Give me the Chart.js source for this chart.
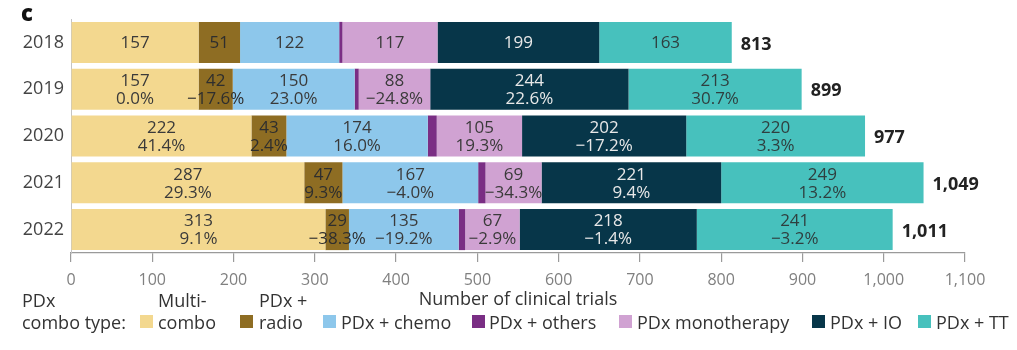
<!DOCTYPE html>
<html>
<head>
<meta charset="utf-8">
<script src="https://cdn.jsdelivr.net/npm/chart.js@4.4.1/dist/chart.umd.min.js"></script>
<style>
  html, body { margin: 0; padding: 0; background: #fff; }
  #wrap { position: relative; width: 1017px; height: 350px; font-family: "Open Sans", sans-serif; color: #333; }
  #c { position: absolute; left: 0; top: 0; }
  .t { position: absolute; white-space: nowrap; font-size: 18px; line-height: 22px; color: #333; }
  .box { position: absolute; top: 315px; width: 13px; height: 13px; }
  #panel { position: absolute; left: 21px; top: -1px; font-size: 22px; font-weight: 800; color: #111; line-height: 26px; }
</style>
</head>
<body>
<div id="wrap">
  <canvas id="c" width="1017" height="350"></canvas>
  <div id="panel">c</div>
  <div class="t" id="axTitle" style="left:518px; top:287px; transform:translateX(-50%);">Number of clinical trials</div>
  <div id="legend"></div>
</div>
<script>
// ---- data ----
const categories = ['2018', '2019', '2020', '2021', '2022'];
const multiCombo  = [157, 157, 222, 287, 313];
const radio       = [51, 42, 43, 47, 29];
const chemo       = [122, 150, 174, 167, 135];
const others      = [4, 5, 11, 9, 8];
const monotherapy = [117, 88, 105, 69, 67];
const io          = [199, 244, 202, 221, 218];
const tt          = [163, 213, 220, 249, 241];

const multiComboPct  = [null, '0.0%', '41.4%', '29.3%', '9.1%'];
const radioPct       = [null, '\u221217.6%', '2.4%', '9.3%', '\u221238.3%'];
const chemoPct       = [null, '23.0%', '16.0%', '\u22124.0%', '\u221219.2%'];
const monotherapyPct = [null, '\u221224.8%', '19.3%', '\u221234.3%', '\u22122.9%'];
const ioPct          = [null, '22.6%', '\u221217.2%', '9.4%', '\u22121.4%'];
const ttPct          = [null, '30.7%', '3.3%', '13.2%', '\u22123.2%'];

const totals = [813, 899, 977, 1049, 1011];
const xTicks = [0, 100, 200, 300, 400, 500, 600, 700, 800, 900, 1000, 1100];

const seriesNames = ['Multi-combo', 'PDx + radio', 'PDx + chemo', 'PDx + others', 'PDx monotherapy', 'PDx + IO', 'PDx + TT'];

// ---- styles ----
const FONT = '"Open Sans", sans-serif';
const colors = ['#F3D88F', '#8E6D23', '#8DC7EB', '#7A2E84', '#D0A2D2', '#073649', '#47C1BD'];
const labelColors = ['#3a3a3a', '#2e2e2e', '#3a3a3a', null, '#3a3a3a', '#e8e8e8', '#2f3f3f'];
const values = [multiCombo, radio, chemo, others, monotherapy, io, tt];
const pcts = [multiComboPct, radioPct, chemoPct, null, monotherapyPct, ioPct, ttPct];

const datasets = values.map((v, i) => ({
  label: seriesNames[i],
  data: v,
  backgroundColor: colors[i],
  borderWidth: 0,
  barPercentage: 1,
  categoryPercentage: 0.876,
  pct: pcts[i],
  labelColor: labelColors[i]
}));

const segLabels = {
  id: 'segLabels',
  afterDatasetsDraw(chart) {
    const ctx = chart.ctx;
    ctx.save();
    ctx.textAlign = 'center';
    ctx.textBaseline = 'middle';
    ctx.font = '17px ' + FONT;
    chart.data.datasets.forEach((ds, i) => {
      if (!ds.pct) return;
      const meta = chart.getDatasetMeta(i);
      meta.data.forEach((bar, j) => {
        const cx = (bar.x + bar.base) / 2;
        ctx.fillStyle = ds.labelColor;
        const p = ds.pct[j];
        if (p) {
          ctx.fillText(String(ds.data[j]), cx, bar.y - 8);
          ctx.fillText(p, cx, bar.y + 10);
        } else {
          ctx.fillText(String(ds.data[j]), cx, bar.y + 1);
        }
      });
    });
    const xs = chart.scales.x;
    const meta0 = chart.getDatasetMeta(0);
    ctx.textAlign = 'left';
    ctx.font = 'bold 18px ' + FONT;
    ctx.fillStyle = '#222';
    totals.forEach((t, j) => {
      ctx.fillText(t.toLocaleString('en-US'), xs.getPixelForValue(t) + 9, meta0.data[j].y + 2);
    });
    ctx.restore();
  }
};

new Chart(document.getElementById('c'), {
  type: 'bar',
  data: { labels: categories, datasets },
  options: {
    indexAxis: 'y',
    responsive: false,
    animation: false,
    layout: { padding: { left: 0, right: 52, top: 19, bottom: 0 } },
    plugins: { legend: { display: false }, tooltip: { enabled: false } },
    scales: {
      x: {
        stacked: true,
        min: 0, max: 1100,
        afterBuildTicks: s => { s.ticks = xTicks.map(v => ({ value: v })); },
        ticks: {
          font: { family: FONT, size: 16 },
          color: '#808080',
          padding: 9,
          maxRotation: 0,
          autoSkip: false,
          callback: v => Number(v).toLocaleString('en-US')
        },
        grid: { drawOnChartArea: false, drawTicks: true, tickLength: 9, color: '#9a9a9a', lineWidth: 1.2 },
        border: { display: true, color: '#9a9a9a', width: 1.2 },
        afterFit: s => { s.height = 97; }
      },
      y: {
        stacked: true,
        ticks: { font: { family: FONT, size: 18 }, color: '#444', padding: 7 },
        grid: { display: false, drawTicks: false },
        border: { display: true, color: '#c4c4c4', width: 1 },
        afterFit: s => { s.width = 71; }
      }
    }
  },
  plugins: [segLabels]
});

// ---- legend (HTML) ----
const legend = document.getElementById('legend');
const legendItems = [
  { box: 140, text: 158, lines: ['Multi-', 'combo'] },
  { box: 240, text: 259, lines: ['PDx +', 'radio'] },
  { box: 323, text: 341, lines: ['', 'PDx + chemo'] },
  { box: 472, text: 489, lines: ['', 'PDx + others'] },
  { box: 619, text: 637, lines: ['', 'PDx monotherapy'] },
  { box: 812, text: 830, lines: ['', 'PDx + IO'] },
  { box: 918, text: 936, lines: ['', 'PDx + TT'] }
];
function addText(x, lines) {
  const d = document.createElement('div');
  d.className = 't';
  d.style.left = x + 'px';
  d.style.top = '289px';
  d.innerHTML = lines.map(l => l === '' ? '&nbsp;' : l.replace(/&/g, '&amp;')).join('<br>');
  legend.appendChild(d);
}
addText(22, ['PDx', 'combo type:']);
legendItems.forEach((it, i) => {
  const b = document.createElement('div');
  b.className = 'box';
  b.style.left = it.box + 'px';
  b.style.background = colors[i];
  legend.appendChild(b);
  addText(it.text, it.lines);
});
</script>
</body>
</html>
